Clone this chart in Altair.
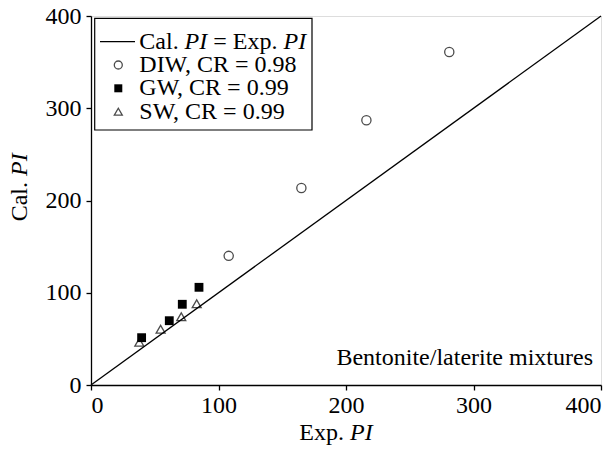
import altair as alt
import pandas as pd

# ---- data ----
exp_diw = [108, 165, 216, 281]
cal_diw = [140, 213.5, 287, 361]
exp_gw = [39.7, 61.4, 71.6, 84.7]
cal_gw = [51.3, 69.7, 87.5, 105.9]
exp_sw = [37.9, 54.6, 70.8, 82.9]
cal_sw = [46.3, 60.4, 74.0, 88.1]
line_exp = [0, 400]
line_cal = [0, 400]
axis_ticks = [0, 100, 200, 300, 400]

FONT = "Liberation Serif"
FS = 24
W, H = 510, 369

xs = alt.Scale(domain=[0, 400], nice=False, zero=False)
ys = alt.Scale(domain=[0, 400], nice=False, zero=False)

diag = pd.DataFrame({"x": line_exp, "y": line_cal})
diw = pd.DataFrame({"x": exp_diw, "y": cal_diw})
gw = pd.DataFrame({"x": exp_gw, "y": cal_gw})
sw = pd.DataFrame({"x": exp_sw, "y": cal_sw})

one = alt.Data(values=[{"a": 1}])

axis_common = dict(values=axis_ticks, title=None, grid=False, tickSize=5, format="d",
                   labelFont=FONT, labelFontSize=FS, labelColor="black",
                   domainColor="black", domainWidth=1.3, tickColor="black", tickWidth=1.3)

line = alt.Chart(diag).mark_line(color="black", strokeWidth=1.3).encode(
    x=alt.X("x:Q", scale=xs, axis=alt.Axis(labelPadding=3, **axis_common)),
    y=alt.Y("y:Q", scale=ys, axis=alt.Axis(labelPadding=5, **axis_common)),
)

pts_diw = alt.Chart(diw).mark_point(shape="circle", filled=False, color="black",
                                    size=85, strokeWidth=1.3).encode(
    x=alt.X("x:Q", scale=xs), y=alt.Y("y:Q", scale=ys))
pts_gw = alt.Chart(gw).mark_point(shape="square", filled=True, color="black",
                                  size=78, opacity=1).encode(
    x=alt.X("x:Q", scale=xs), y=alt.Y("y:Q", scale=ys))
pts_sw = alt.Chart(sw).mark_point(shape="triangle-up", filled=False, color="black",
                                  size=80, strokeWidth=1.3).encode(
    x=alt.X("x:Q", scale=xs), y=alt.Y("y:Q", scale=ys))


def txt(s, x, y, align="left", italic=False, angle=0, baseline="middle", fs=FS):
    kw = dict(font=FONT, fontSize=fs, color="black", align=align, baseline=baseline)
    if italic:
        kw["fontStyle"] = "italic"
    if angle:
        kw["angle"] = angle
    return alt.Chart(one).mark_text(**kw).encode(
        x=alt.value(x), y=alt.value(y), text=alt.value(s))


# legend box
box = alt.Chart(one).mark_rect(fill="white", stroke="black", strokeWidth=1.2).encode(
    x=alt.value(3.7), x2=alt.value(221), y=alt.value(2.3), y2=alt.value(114))
leg_line = alt.Chart(one).mark_rule(color="black", strokeWidth=1.3).encode(
    x=alt.value(9), x2=alt.value(44), y=alt.value(25.7))
leg_c = alt.Chart(one).mark_point(shape="circle", filled=False, color="black",
                                  size=64, strokeWidth=1.3).encode(
    x=alt.value(27.3), y=alt.value(49))
leg_s = alt.Chart(one).mark_point(shape="square", filled=True, color="black",
                                  size=64, opacity=1).encode(
    x=alt.value(27.3), y=alt.value(72.3))
leg_t = alt.Chart(one).mark_point(shape="triangle-up", filled=False, color="black",
                                  size=64, strokeWidth=1.3).encode(
    x=alt.value(27.3), y=alt.value(95.7))

tx = 48.3
legend_texts = [
    txt("Cal.", tx, 25.7),
    txt("PI", tx + 45.3, 25.7, italic=True),
    txt("= Exp.", tx + 74, 25.7),
    txt("PI", tx + 144.2, 25.7, italic=True),
    txt("DIW, CR = 0.98", tx, 49),
    txt("GW, CR = 0.99", tx, 72.3),
    txt("SW, CR = 0.99", tx, 95.7),
]

note = txt("Bentonite/laterite mixtures", 502, 349, align="right", baseline="alphabetic")

# axis titles with italic parts
xt1 = txt("Exp.", 253, 424, align="right", baseline="alphabetic")
xt2 = txt("PI", 259, 424, align="left", italic=True, baseline="alphabetic")
yt1 = txt("Cal.", -64, 166, align="right", angle=270, baseline="alphabetic")
yt2 = txt("PI", -64, 160, align="left", italic=True, angle=270, baseline="alphabetic")

chart = alt.layer(
    line, pts_diw, pts_gw, pts_sw,
    box, leg_line, leg_c, leg_s, leg_t, *legend_texts,
    note, xt1, xt2, yt1, yt2,
).properties(
    width=W, height=H,
    padding={"left": 91, "top": 16, "right": 15, "bottom": 66},
    autosize=alt.AutoSizeParams(type="none"),
).configure_view(
    stroke="black", strokeWidth=1.3
).configure(background="white")

chart.save("out.html", embed_options={"renderer": "svg", "actions": False})
